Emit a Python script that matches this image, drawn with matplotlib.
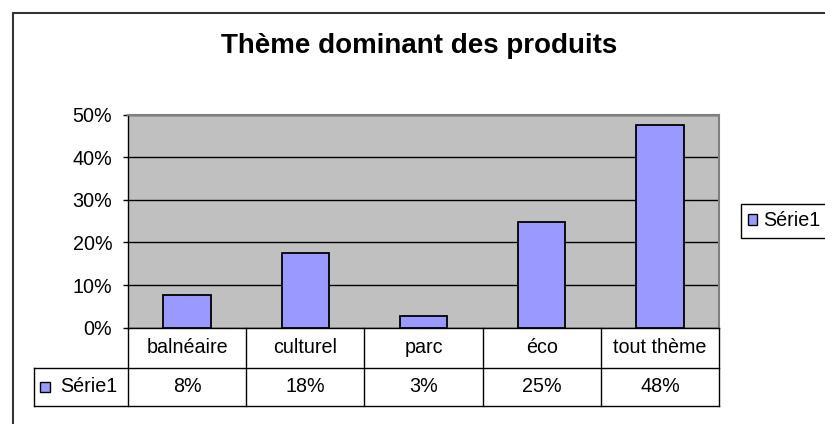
import matplotlib
matplotlib.use("Agg")
import matplotlib.pyplot as plt
import matplotlib.transforms as mtransforms
from matplotlib.patches import Rectangle, Patch

plt.rcParams['font.family'] = ['Liberation Sans', 'DejaVu Sans']

# data
title = "Thème dominant des produits"
categories = ["balnéaire", "culturel", "parc", "éco", "tout thème"]
values = [0.077, 0.176, 0.027, 0.247, 0.476]
series_name = "Série1"
yticks = [0, 0.1, 0.2, 0.3, 0.4, 0.5]

bar_color = "#9999FF"
fs = 14.2
W, H = 825, 424

fig = plt.figure(figsize=(W / 100, H / 100), dpi=100)
ax = fig.add_axes([128 / W, 1 - 327.7 / H, (719 - 128) / W, (327.7 - 114.5) / H])
ax.set_facecolor("#C0C0C0")

x = list(range(len(categories)))
ax.bar(x, values, width=0.4, color=bar_color, edgecolor="black", linewidth=1.3, zorder=3)

ax.set_xlim(-0.5, len(categories) - 0.5)
ax.set_ylim(0, 0.5)
ax.set_yticks(yticks)
ax.set_yticklabels([f"{t:.0%}" for t in yticks], fontsize=fs)
ax.tick_params(axis="y", length=3.6, width=1, pad=7.7)
ax.set_xticks([])
ax.yaxis.grid(True, color="black", linewidth=1)
ax.set_axisbelow(True)

for s in ["top", "right"]:
    ax.spines[s].set_color("#808080")
    ax.spines[s].set_linewidth(1.5)
for s in ["left", "bottom"]:
    ax.spines[s].set_color("black")
    ax.spines[s].set_linewidth(1)

# data table under the plot
trans = mtransforms.blended_transform_factory(ax.transData, ax.transAxes)
row1 = -(367.5 - 327.7) / 213.2
row2 = -(406 - 327.7) / 213.2
left = -0.5 - 94 / 118.2
n = len(categories)

for b in [i - 0.5 for i in range(n + 1)]:
    ax.plot([b, b], [0, row2], color="black", lw=1, transform=trans, clip_on=False)
for yy in [row1, row2]:
    ax.plot([left, n - 0.5], [yy, yy], color="black", lw=1, transform=trans, clip_on=False)
ax.plot([left, left], [row1, row2], color="black", lw=1, transform=trans, clip_on=False)

for i, (c, v) in enumerate(zip(categories, values)):
    ax.text(i, row1 / 2, c, ha="center", va="center", fontsize=fs, transform=trans)
    ax.text(i, (row1 + row2) / 2, f"{v:.0%}", ha="center", va="center", fontsize=fs,
            transform=trans)

ax.plot([left + 0.096], [(row1 + row2) / 2], marker="s", ms=7.3, mfc=bar_color, mec="black",
        mew=1, transform=trans, clip_on=False)
ax.text(left + 0.22, (row1 + row2) / 2, series_name, ha="left", va="center", fontsize=fs,
        transform=trans)

# title
fig.text(418.7 / W, 1 - 53 / H, title, ha="center", va="baseline", fontsize=20,
         fontweight="bold")

# legend on the right (cut by the figure edge, as in the original)
leg = fig.legend(handles=[Patch(facecolor=bar_color, edgecolor="black", linewidth=1)],
                 labels=[series_name], loc="center left",
                 bbox_to_anchor=(741 / W, 1 - 221 / H), borderaxespad=0, fontsize=fs,
                 handlelength=0.42, handleheight=0.42, handletextpad=0.3,
                 borderpad=0.38, fancybox=False, framealpha=1)
leg.get_frame().set_edgecolor("black")
leg.get_frame().set_linewidth(1)

# chart area border
fig.patches.append(Rectangle((13 / W, -0.05), 1.1, 1 - 13 / H + 0.05, transform=fig.transFigure,
                             fill=False, edgecolor="#333333", linewidth=1.5))

fig.savefig("out.png", dpi=100)
